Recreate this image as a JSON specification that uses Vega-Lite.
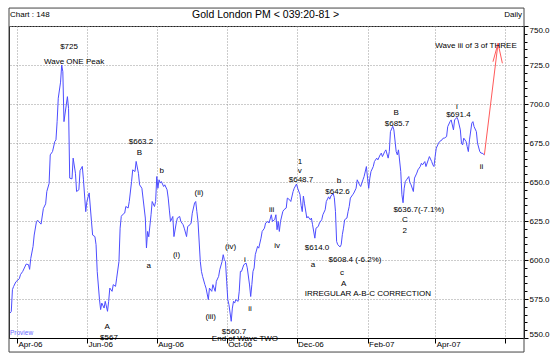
{
  "$schema": "https://vega.github.io/schema/vega-lite/v6.json",
  "width": 515,
  "height": 312,
  "autosize": {"type": "none"},
  "padding": {"left": 9, "top": 26, "right": 30, "bottom": 22},
  "background": "white",
  "config": {
    "view": {"stroke": "#222", "strokeWidth": 1},
    "font": "Liberation Sans",
    "text": {"font": "Liberation Sans", "fontSize": 8, "color": "black", "baseline": "middle"}
  },
  "resolve": {"axis": {"y": "independent"}},
  "datasets": {
    "prices": [
      {"date": "2006-03-26", "value": 566}, {"date": "2006-03-27", "value": 567}, {"date": "2006-03-28", "value": 581}, {"date": "2006-03-29", "value": 583}, {"date": "2006-03-31", "value": 586},
      {"date": "2006-04-03", "value": 588}, {"date": "2006-04-04", "value": 590.6}, {"date": "2006-04-06", "value": 592.7}, {"date": "2006-04-09", "value": 597.4}, {"date": "2006-04-11", "value": 597},
      {"date": "2006-04-12", "value": 594}, {"date": "2006-04-13", "value": 601}, {"date": "2006-04-15", "value": 608.7}, {"date": "2006-04-16", "value": 616}, {"date": "2006-04-18", "value": 624.7},
      {"date": "2006-04-19", "value": 625.5}, {"date": "2006-04-21", "value": 623.7}, {"date": "2006-04-22", "value": 623}, {"date": "2006-04-24", "value": 633}, {"date": "2006-04-26", "value": 636},
      {"date": "2006-04-27", "value": 643.9}, {"date": "2006-04-29", "value": 649}, {"date": "2006-04-30", "value": 667.4}, {"date": "2006-05-02", "value": 669.5}, {"date": "2006-05-04", "value": 676},
      {"date": "2006-05-05", "value": 677}, {"date": "2006-05-06", "value": 688.7}, {"date": "2006-05-07", "value": 703.7}, {"date": "2006-05-09", "value": 714}, {"date": "2006-05-10", "value": 725},
      {"date": "2006-05-11", "value": 720.7}, {"date": "2006-05-12", "value": 688.7}, {"date": "2006-05-14", "value": 699.4}, {"date": "2006-05-15", "value": 704.7}, {"date": "2006-05-16", "value": 697},
      {"date": "2006-05-17", "value": 652.5}, {"date": "2006-05-19", "value": 652}, {"date": "2006-05-20", "value": 665.3}, {"date": "2006-05-22", "value": 655.6}, {"date": "2006-05-23", "value": 643.9},
      {"date": "2006-05-25", "value": 645}, {"date": "2006-05-26", "value": 657.3}, {"date": "2006-05-28", "value": 660}, {"date": "2006-05-29", "value": 651.4}, {"date": "2006-05-31", "value": 631},
      {"date": "2006-06-01", "value": 637.5}, {"date": "2006-06-03", "value": 643}, {"date": "2006-06-05", "value": 624.7}, {"date": "2006-06-06", "value": 616}, {"date": "2006-06-08", "value": 615},
      {"date": "2006-06-09", "value": 609.8}, {"date": "2006-06-10", "value": 592.7}, {"date": "2006-06-12", "value": 574.6}, {"date": "2006-06-13", "value": 568.2}, {"date": "2006-06-14", "value": 572.4},
      {"date": "2006-06-16", "value": 569.2}, {"date": "2006-06-17", "value": 573.5}, {"date": "2006-06-19", "value": 567.1}, {"date": "2006-06-20", "value": 573.5}, {"date": "2006-06-21", "value": 582},
      {"date": "2006-06-23", "value": 579.9}, {"date": "2006-06-24", "value": 584.2}, {"date": "2006-06-26", "value": 583.1}, {"date": "2006-06-27", "value": 588.4}, {"date": "2006-06-29", "value": 599},
      {"date": "2006-06-30", "value": 620.4}, {"date": "2006-07-01", "value": 627.9}, {"date": "2006-07-02", "value": 629}, {"date": "2006-07-04", "value": 630.1}, {"date": "2006-07-05", "value": 634.3},
      {"date": "2006-07-07", "value": 633.3}, {"date": "2006-07-08", "value": 637.5}, {"date": "2006-07-10", "value": 650.3}, {"date": "2006-07-11", "value": 657.8}, {"date": "2006-07-13", "value": 656.7},
      {"date": "2006-07-14", "value": 663.2}, {"date": "2006-07-16", "value": 655.6}, {"date": "2006-07-17", "value": 648.2}, {"date": "2006-07-19", "value": 646}, {"date": "2006-07-20", "value": 639.7},
      {"date": "2006-07-22", "value": 626.9}, {"date": "2006-07-23", "value": 607.7}, {"date": "2006-07-24", "value": 618.3}, {"date": "2006-07-25", "value": 614.9}, {"date": "2006-07-27", "value": 629},
      {"date": "2006-07-28", "value": 637.5}, {"date": "2006-07-30", "value": 634.3}, {"date": "2006-07-31", "value": 637.5}, {"date": "2006-08-01", "value": 653.5}, {"date": "2006-08-02", "value": 646},
      {"date": "2006-08-03", "value": 651.4}, {"date": "2006-08-04", "value": 649.3}, {"date": "2006-08-05", "value": 650.3}, {"date": "2006-08-07", "value": 647.1}, {"date": "2006-08-08", "value": 648.2},
      {"date": "2006-08-10", "value": 645}, {"date": "2006-08-11", "value": 639.7}, {"date": "2006-08-12", "value": 632}, {"date": "2006-08-13", "value": 624.7}, {"date": "2006-08-15", "value": 627.9},
      {"date": "2006-08-16", "value": 615}, {"date": "2006-08-18", "value": 623.7}, {"date": "2006-08-19", "value": 626.9}, {"date": "2006-08-21", "value": 627.9}, {"date": "2006-08-22", "value": 624.7},
      {"date": "2006-08-24", "value": 622.6}, {"date": "2006-08-25", "value": 620.4}, {"date": "2006-08-27", "value": 615}, {"date": "2006-08-28", "value": 621.5}, {"date": "2006-08-30", "value": 622.6},
      {"date": "2006-08-31", "value": 623.7}, {"date": "2006-09-01", "value": 630}, {"date": "2006-09-03", "value": 636.5}, {"date": "2006-09-04", "value": 637.5}, {"date": "2006-09-05", "value": 631},
      {"date": "2006-09-06", "value": 624.7}, {"date": "2006-09-08", "value": 599}, {"date": "2006-09-09", "value": 592.7}, {"date": "2006-09-10", "value": 589.5}, {"date": "2006-09-12", "value": 584.2},
      {"date": "2006-09-13", "value": 582}, {"date": "2006-09-15", "value": 574.6}, {"date": "2006-09-16", "value": 582}, {"date": "2006-09-18", "value": 579.9}, {"date": "2006-09-19", "value": 584.2},
      {"date": "2006-09-21", "value": 579.9}, {"date": "2006-09-22", "value": 586.3}, {"date": "2006-09-24", "value": 589.5}, {"date": "2006-09-25", "value": 593.8}, {"date": "2006-09-27", "value": 599},
      {"date": "2006-09-28", "value": 603.4}, {"date": "2006-09-29", "value": 600.2}, {"date": "2006-09-30", "value": 599}, {"date": "2006-10-01", "value": 586.3}, {"date": "2006-10-02", "value": 574.6},
      {"date": "2006-10-03", "value": 571.4}, {"date": "2006-10-05", "value": 560.7}, {"date": "2006-10-06", "value": 569.2}, {"date": "2006-10-07", "value": 573.5}, {"date": "2006-10-08", "value": 572.4},
      {"date": "2006-10-09", "value": 574.6}, {"date": "2006-10-11", "value": 573.5}, {"date": "2006-10-12", "value": 580}, {"date": "2006-10-13", "value": 592.7}, {"date": "2006-10-14", "value": 592.7},
      {"date": "2006-10-15", "value": 594.9}, {"date": "2006-10-16", "value": 597}, {"date": "2006-10-18", "value": 598}, {"date": "2006-10-19", "value": 595}, {"date": "2006-10-21", "value": 584},
      {"date": "2006-10-22", "value": 576.6}, {"date": "2006-10-23", "value": 584.2}, {"date": "2006-10-24", "value": 592.7}, {"date": "2006-10-25", "value": 594.9}, {"date": "2006-10-26", "value": 603.4},
      {"date": "2006-10-28", "value": 608.7}, {"date": "2006-10-29", "value": 607.6}, {"date": "2006-10-31", "value": 614}, {"date": "2006-11-01", "value": 618.3}, {"date": "2006-11-03", "value": 620.4},
      {"date": "2006-11-04", "value": 623.7}, {"date": "2006-11-06", "value": 624.7}, {"date": "2006-11-07", "value": 623.7}, {"date": "2006-11-09", "value": 629}, {"date": "2006-11-10", "value": 624.7},
      {"date": "2006-11-12", "value": 626}, {"date": "2006-11-13", "value": 629}, {"date": "2006-11-14", "value": 619.4}, {"date": "2006-11-15", "value": 624.7}, {"date": "2006-11-16", "value": 618.3},
      {"date": "2006-11-17", "value": 624.7}, {"date": "2006-11-19", "value": 631}, {"date": "2006-11-20", "value": 632.2}, {"date": "2006-11-22", "value": 633.3}, {"date": "2006-11-23", "value": 639.7},
      {"date": "2006-11-25", "value": 638.6}, {"date": "2006-11-26", "value": 637.5}, {"date": "2006-11-28", "value": 643.9}, {"date": "2006-11-29", "value": 646}, {"date": "2006-12-01", "value": 648.7},
      {"date": "2006-12-02", "value": 646}, {"date": "2006-12-04", "value": 642}, {"date": "2006-12-05", "value": 635}, {"date": "2006-12-06", "value": 631}, {"date": "2006-12-07", "value": 641},
      {"date": "2006-12-08", "value": 636}, {"date": "2006-12-10", "value": 626.9}, {"date": "2006-12-11", "value": 627.9}, {"date": "2006-12-13", "value": 625.8}, {"date": "2006-12-14", "value": 626.9},
      {"date": "2006-12-15", "value": 622.6}, {"date": "2006-12-17", "value": 614}, {"date": "2006-12-18", "value": 620.4}, {"date": "2006-12-20", "value": 621.5}, {"date": "2006-12-21", "value": 623.7},
      {"date": "2006-12-23", "value": 625.8}, {"date": "2006-12-24", "value": 629}, {"date": "2006-12-26", "value": 632.2}, {"date": "2006-12-27", "value": 637.5}, {"date": "2006-12-29", "value": 640.5},
      {"date": "2006-12-30", "value": 639}, {"date": "2006-12-31", "value": 641}, {"date": "2007-01-02", "value": 642.6}, {"date": "2007-01-03", "value": 640}, {"date": "2007-01-04", "value": 631},
      {"date": "2007-01-05", "value": 611.9}, {"date": "2007-01-06", "value": 609.8}, {"date": "2007-01-08", "value": 608.4}, {"date": "2007-01-09", "value": 609.8}, {"date": "2007-01-10", "value": 616.2},
      {"date": "2007-01-11", "value": 620.4}, {"date": "2007-01-12", "value": 625.8}, {"date": "2007-01-14", "value": 626.9}, {"date": "2007-01-15", "value": 631}, {"date": "2007-01-16", "value": 634.3},
      {"date": "2007-01-17", "value": 639.7}, {"date": "2007-01-19", "value": 641.8}, {"date": "2007-01-20", "value": 642.9}, {"date": "2007-01-22", "value": 646}, {"date": "2007-01-23", "value": 651.4},
      {"date": "2007-01-25", "value": 648.2}, {"date": "2007-01-26", "value": 647.1}, {"date": "2007-01-28", "value": 651.4}, {"date": "2007-01-29", "value": 653.5}, {"date": "2007-01-31", "value": 659.9},
      {"date": "2007-02-01", "value": 652.5}, {"date": "2007-02-02", "value": 646}, {"date": "2007-02-03", "value": 652.5}, {"date": "2007-02-04", "value": 656.7}, {"date": "2007-02-06", "value": 659.9},
      {"date": "2007-02-07", "value": 663.1}, {"date": "2007-02-09", "value": 665.3}, {"date": "2007-02-10", "value": 664.2}, {"date": "2007-02-12", "value": 667.4}, {"date": "2007-02-13", "value": 668.5},
      {"date": "2007-02-14", "value": 666.3}, {"date": "2007-02-16", "value": 669.5}, {"date": "2007-02-17", "value": 670.6}, {"date": "2007-02-19", "value": 665.3}, {"date": "2007-02-20", "value": 669.5},
      {"date": "2007-02-21", "value": 682.3}, {"date": "2007-02-23", "value": 685.7}, {"date": "2007-02-24", "value": 683.4}, {"date": "2007-02-26", "value": 669.5}, {"date": "2007-02-27", "value": 667.4},
      {"date": "2007-02-28", "value": 670.6}, {"date": "2007-03-02", "value": 656.7}, {"date": "2007-03-03", "value": 641.8}, {"date": "2007-03-04", "value": 636.7}, {"date": "2007-03-05", "value": 646},
      {"date": "2007-03-06", "value": 650.3}, {"date": "2007-03-07", "value": 651.4}, {"date": "2007-03-09", "value": 653.5}, {"date": "2007-03-10", "value": 649.5}, {"date": "2007-03-11", "value": 648.2},
      {"date": "2007-03-13", "value": 643.9}, {"date": "2007-03-14", "value": 652.5}, {"date": "2007-03-16", "value": 655.7}, {"date": "2007-03-17", "value": 657.8}, {"date": "2007-03-19", "value": 659.9},
      {"date": "2007-03-20", "value": 662}, {"date": "2007-03-21", "value": 661}, {"date": "2007-03-23", "value": 663.1}, {"date": "2007-03-24", "value": 659.9}, {"date": "2007-03-26", "value": 664.2},
      {"date": "2007-03-27", "value": 666.3}, {"date": "2007-03-29", "value": 663.1}, {"date": "2007-03-30", "value": 661}, {"date": "2007-03-31", "value": 659.9}, {"date": "2007-04-01", "value": 666.3},
      {"date": "2007-04-02", "value": 671.7}, {"date": "2007-04-04", "value": 674.9}, {"date": "2007-04-05", "value": 676}, {"date": "2007-04-07", "value": 677}, {"date": "2007-04-08", "value": 678.1},
      {"date": "2007-04-09", "value": 678.1}, {"date": "2007-04-11", "value": 679.1}, {"date": "2007-04-12", "value": 685.5}, {"date": "2007-04-14", "value": 688.7}, {"date": "2007-04-15", "value": 689.8},
      {"date": "2007-04-17", "value": 683.4}, {"date": "2007-04-18", "value": 689.8}, {"date": "2007-04-20", "value": 691.4}, {"date": "2007-04-21", "value": 689.8}, {"date": "2007-04-23", "value": 683.4},
      {"date": "2007-04-24", "value": 674.9}, {"date": "2007-04-25", "value": 673.8}, {"date": "2007-04-26", "value": 678.1}, {"date": "2007-04-28", "value": 676}, {"date": "2007-04-29", "value": 672.7},
      {"date": "2007-04-30", "value": 669.5}, {"date": "2007-05-01", "value": 677}, {"date": "2007-05-03", "value": 687.7}, {"date": "2007-05-04", "value": 688.7}, {"date": "2007-05-05", "value": 685.5},
      {"date": "2007-05-07", "value": 682.3}, {"date": "2007-05-08", "value": 674.9}, {"date": "2007-05-10", "value": 669.5}, {"date": "2007-05-11", "value": 668.5}, {"date": "2007-05-12", "value": 668.5},
      {"date": "2007-05-14", "value": 667.4}
    ],
    "arrow": [
      {"date": "2007-05-14", "value": 667.4, "part": "shaft", "ord": 1},
      {"date": "2007-05-25T22:00:00Z", "value": 738.9, "part": "shaft", "ord": 2},
      {"date": "2007-05-21T12:00:00Z", "value": 727.1, "part": "head", "ord": 1},
      {"date": "2007-05-25T22:00:00Z", "value": 738.9, "part": "head", "ord": 2},
      {"date": "2007-05-29T17:00:00Z", "value": 726.1, "part": "head", "ord": 3}
    ],
    "notes": [
      {"date": "2006-05-16T10:00:00Z", "value": 736.7, "text": "$725"},
      {"date": "2006-05-20T19:00:00Z", "value": 727.1, "text": "Wave ONE Peak"},
      {"date": "2006-07-18T05:00:00Z", "value": 675.5, "text": "$663.2"},
      {"date": "2006-07-16T19:00:00Z", "value": 668.5, "text": "B"},
      {"date": "2006-08-05T07:00:00Z", "value": 657.3, "text": "b"},
      {"date": "2006-09-06T22:00:00Z", "value": 643.2, "text": "(ii)"},
      {"date": "2006-11-09T05:00:00Z", "value": 632.2, "text": "iii"},
      {"date": "2006-07-25T00:00:00Z", "value": 595.9, "text": "a"},
      {"date": "2006-08-18T05:00:00Z", "value": 603.4, "text": "(i)"},
      {"date": "2006-06-18T19:00:00Z", "value": 557.1, "text": "A"},
      {"date": "2006-06-20T07:00:00Z", "value": 550.0, "text": "$567"},
      {"date": "2006-09-17T02:00:00Z", "value": 563.5, "text": "(iii)"},
      {"date": "2006-10-04T10:00:00Z", "value": 608.2, "text": "(iv)"},
      {"date": "2006-10-17T00:00:00Z", "value": 600.2, "text": "i"},
      {"date": "2006-10-21T10:00:00Z", "value": 568.8, "text": "ii"},
      {"date": "2006-10-07T10:00:00Z", "value": 553.6, "text": "$560.7"},
      {"date": "2006-10-17T00:00:00Z", "value": 549.6, "text": "End of Wave TWO"},
      {"date": "2006-11-14T00:00:00Z", "value": 608.7, "text": "iv"},
      {"date": "2006-12-04T02:00:00Z", "value": 663.1, "text": "1"},
      {"date": "2006-12-03T19:00:00Z", "value": 657.3, "text": "v"},
      {"date": "2006-12-04T22:00:00Z", "value": 651.4, "text": "$648.7"},
      {"date": "2006-12-18T22:00:00Z", "value": 608.0, "text": "$614.0"},
      {"date": "2006-12-15T10:00:00Z", "value": 596.6, "text": "a"},
      {"date": "2007-01-07T02:00:00Z", "value": 650.7, "text": "b"},
      {"date": "2007-01-05T19:00:00Z", "value": 643.9, "text": "$642.6"},
      {"date": "2007-01-21T02:00:00Z", "value": 600.2, "text": "$608.4 (-6.2%)"},
      {"date": "2007-01-09T17:00:00Z", "value": 591.6, "text": "c"},
      {"date": "2007-01-11T05:00:00Z", "value": 584.8, "text": "A"},
      {"date": "2007-02-01T05:00:00Z", "value": 578.4, "text": "IRREGULAR A-B-C CORRECTION"},
      {"date": "2007-02-26T00:00:00Z", "value": 694.4, "text": "B"},
      {"date": "2007-02-26T17:00:00Z", "value": 687.4, "text": "$685.7"},
      {"date": "2007-03-17T17:00:00Z", "value": 632.2, "text": "$636.7(-7.1%)"},
      {"date": "2007-03-05T12:00:00Z", "value": 625.8, "text": "C"},
      {"date": "2007-03-05T12:00:00Z", "value": 618.7, "text": "2"},
      {"date": "2007-04-19T22:00:00Z", "value": 698.3, "text": "i"},
      {"date": "2007-04-21T07:00:00Z", "value": 693.0, "text": "$691.4"},
      {"date": "2007-05-11T12:00:00Z", "value": 659.9, "text": "ii"},
      {"date": "2007-05-06T17:00:00Z", "value": 737.4, "text": "Wave iii of 3 of THREE"}
    ],
    "one": [{}]
  },
  "layer": [
    {
      "data": {"name": "prices"},
      "mark": {"type": "line", "color": "#4d4dff", "strokeWidth": 1},
      "encoding": {
        "x": {
          "field": "date", "type": "temporal",
          "scale": {"type": "utc", "domain": [{"year": 2006, "month": 3, "date": 25, "utc": true}, {"year": 2007, "month": 6, "date": 17, "hours": 14, "utc": true}]},
          "axis": {
            "title": null,
            "values": [
              {"year": 2006, "month": 4, "date": 1, "utc": true},
              {"year": 2006, "month": 6, "date": 1, "utc": true},
              {"year": 2006, "month": 8, "date": 1, "utc": true},
              {"year": 2006, "month": 10, "date": 1, "utc": true},
              {"year": 2006, "month": 12, "date": 1, "utc": true},
              {"year": 2007, "month": 2, "date": 1, "utc": true},
              {"year": 2007, "month": 4, "date": 1, "utc": true},
              {"year": 2007, "month": 6, "date": 1, "utc": true}
            ],
            "format": "%b-%y",
            "labelExpr": "datum.label == 'Jun-07' ? '' : datum.label",
            "labelAlign": "left", "labelBaseline": "top", "labelOffset": 1, "labelPadding": -3,
            "labelFont": "Liberation Sans", "labelFontSize": 8, "labelColor": "black",
            "labelFlush": false, "labelOverlap": false,
            "tickSize": 5, "tickColor": "black", "domainColor": "black",
            "grid": true, "gridColor": "#999", "gridDash": [1, 2]
          }
        },
        "y": {
          "field": "value", "type": "quantitative",
          "scale": {"domain": [550, 750], "nice": false, "zero": false},
          "axis": {
            "orient": "right", "title": null,
            "values": [550, 575, 600, 625, 650, 675, 700, 725, 750],
            "format": ".1f",
            "labelFont": "Liberation Sans", "labelFontSize": 8, "labelColor": "black", "labelPadding": 1,
            "labelFlush": true, "labelOverlap": false,
            "tickSize": 4, "tickColor": "black", "domainColor": "black",
            "grid": true, "gridColor": "#999", "gridDash": [1, 2]
          }
        }
      }
    },
    {
      "data": {"name": "arrow"},
      "mark": {"type": "line", "color": "#ff5a5a", "strokeWidth": 1},
      "encoding": {
        "x": {"field": "date", "type": "temporal"},
        "y": {
          "field": "value", "type": "quantitative",
          "axis": {
            "orient": "right", "title": null,
            "values": [555,560,565,570,580,585,590,595,605,610,615,620,630,635,640,645,655,660,665,670,680,685,690,695,705,710,715,720,730,735,740,745],
            "labels": false, "grid": false, "domain": false,
            "tickSize": 3, "tickColor": "black"
          }
        },
        "detail": {"field": "part"},
        "order": {"field": "ord"}
      }
    },
    {
      "data": {"name": "notes"},
      "mark": {"type": "text", "align": "center", "baseline": "middle", "fontSize": 8, "font": "Liberation Sans", "color": "black"},
      "encoding": {
        "x": {"field": "date", "type": "temporal"},
        "y": {"field": "value", "type": "quantitative", "axis": null},
        "text": {"field": "text"}
      }
    },
    {
      "data": {"name": "one"},
      "mark": {"type": "rect", "fill": null, "stroke": "#444", "strokeWidth": 1},
      "encoding": {
        "x": {"datum": {"year": 2006, "month": 3, "date": 25, "utc": true}, "type": "temporal"},
        "x2": {"datum": {"year": 2007, "month": 6, "date": 17, "hours": 14, "utc": true}},
        "y": {"datum": 541, "type": "quantitative", "axis": null},
        "y2": {"datum": 761.5}
      }
    },
    {
      "data": {"name": "one"},
      "mark": {"type": "text", "align": "left", "dx": 1, "fontSize": 8, "font": "Liberation Sans", "color": "black"},
      "encoding": {
        "x": {"datum": {"year": 2006, "month": 3, "date": 25, "utc": true}, "type": "temporal"},
        "y": {"datum": 757, "type": "quantitative", "axis": null},
        "text": {"value": "Chart : 148"}
      }
    },
    {
      "data": {"name": "one"},
      "mark": {"type": "text", "align": "center", "fontSize": 10.5, "font": "Liberation Sans", "color": "black"},
      "encoding": {
        "x": {"datum": {"year": 2006, "month": 11, "date": 4, "utc": true}, "type": "temporal"},
        "y": {"datum": 757, "type": "quantitative", "axis": null},
        "text": {"value": "Gold London PM < 039:20-81 >"}
      }
    },
    {
      "data": {"name": "one"},
      "mark": {"type": "text", "align": "right", "dx": -2, "fontSize": 8, "font": "Liberation Sans", "color": "black"},
      "encoding": {
        "x": {"datum": {"year": 2007, "month": 6, "date": 17, "hours": 14, "utc": true}, "type": "temporal"},
        "y": {"datum": 757, "type": "quantitative", "axis": null},
        "text": {"value": "Daily"}
      }
    },
    {
      "data": {"name": "one"},
      "mark": {"type": "text", "align": "left", "dx": 1, "fontSize": 6.5, "font": "Liberation Sans", "color": "#6a6aff"},
      "encoding": {
        "x": {"datum": {"year": 2006, "month": 3, "date": 25, "utc": true}, "type": "temporal"},
        "y": {"datum": 553.4, "type": "quantitative", "axis": null},
        "text": {"value": "Proview"}
      }
    }
  ]
}
